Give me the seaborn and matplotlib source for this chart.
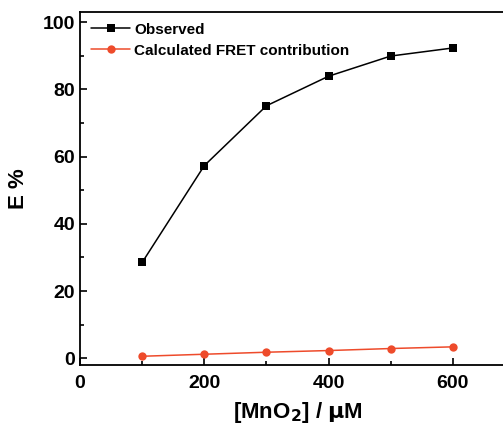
import matplotlib
matplotlib.use("Agg")
import matplotlib.pyplot as plt
import seaborn as sns
import pandas as pd
from matplotlib.ticker import MultipleLocator

conc = [100, 200, 300, 400, 500, 600]
observed = [28.5, 57.3, 75.1, 83.9, 89.9, 92.3]
fret = [0.6, 1.2, 1.8, 2.3, 2.9, 3.4]
series_names = ["Observed", "Calculated FRET contribution"]

df = pd.DataFrame({
    "conc": conc * 2,
    "E": observed + fret,
    "series": [series_names[0]] * len(conc) + [series_names[1]] * len(conc),
})

sns.set_style("ticks")
plt.rcParams['font.family'] = ['Liberation Sans', 'DejaVu Sans']
plt.rcParams['font.weight'] = 'bold'
plt.rcParams['mathtext.default'] = 'regular'
for k in ['text.color', 'axes.labelcolor', 'xtick.color', 'ytick.color', 'axes.edgecolor']:
    plt.rcParams[k] = 'black'

fig = plt.figure(figsize=(5.03, 4.29), dpi=100)
W, H = 503, 429
left, right, top, bottom = 80, 515, 12, 365
ax = fig.add_axes([left / W, 1 - bottom / H, (right - left) / W, (bottom - top) / H])

colors = {series_names[0]: "black", series_names[1]: "#EE4B2B"}
markers = {series_names[0]: "s", series_names[1]: "o"}
sns.lineplot(data=df, x="conc", y="E", hue="series", style="series",
             palette=colors, markers=markers, dashes=False, ax=ax,
             linewidth=1.1, markersize=6, markeredgewidth=0)

ax.set_xlim(0, 700)
ax.set_ylim(-2, 103)
ax.xaxis.set_major_locator(MultipleLocator(200))
ax.xaxis.set_minor_locator(MultipleLocator(100))
ax.yaxis.set_major_locator(MultipleLocator(20))
ax.yaxis.set_minor_locator(MultipleLocator(10))
ax.tick_params(which='both', direction='in', width=1.2, labelsize=14, colors='black')
ax.tick_params(which='major', length=5)
ax.tick_params(which='minor', length=3)
ax.tick_params(axis='x', pad=7)
for lab in ax.get_xticklabels() + ax.get_yticklabels():
    lab.set_fontweight('bold')
for s in ax.spines.values():
    s.set_linewidth(1.3)
    s.set_color('black')

ax.set_xlabel(r"[MnO$_\mathbf{2}$] / $\mathbf{\mu}$M", fontsize=16, fontweight='bold', labelpad=6)
ax.set_ylabel("E %", fontsize=16, fontweight='bold', labelpad=10)

leg = ax.legend(loc='upper left', frameon=False, fontsize=11, handlelength=2.6,
                borderaxespad=0.3, labelspacing=0.45, handletextpad=0.25)
for t in leg.get_texts():
    t.set_fontweight('bold')
    t.set_color('black')

fig.savefig("out.png", dpi=100)
